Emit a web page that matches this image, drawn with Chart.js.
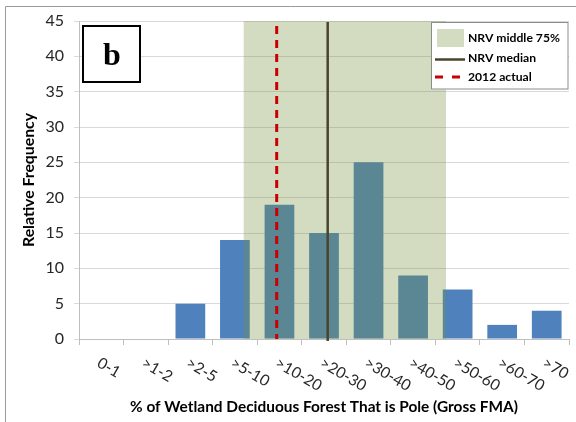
<!DOCTYPE html>
<html>
<head>
<meta charset="utf-8">
<script src="https://cdn.jsdelivr.net/npm/chart.js@4.4.1/dist/chart.umd.min.js"></script>
<style>
  html, body { margin: 0; padding: 0; background: #ffffff; }
  #wrap { width: 576px; height: 422px; }
</style>
</head>
<body>
<div id="wrap"><canvas id="c" width="576" height="422"></canvas></div>
<script>
// ---- data ----
const categories = ['0-1', '>1-2', '>2-5', '>5-10', '>10-20', '>20-30', '>30-40', '>40-50', '>50-60', '>60-70', '>70'];
const frequency = [0, 0, 5, 14, 19, 15, 25, 9, 7, 2, 4];
const yTickValues = [0, 5, 10, 15, 20, 25, 30, 35, 40, 45];
// reference marks, in category-index units along the x axis
const nrvMiddle75 = [3.197, 7.739];
const nrvMedian = 5.083;
const actual2012 = 3.938;
const legendLabels = ['NRV middle 75%', 'NRV median', '2012 actual'];
const panelLetter = 'b';
const xTitle = '% of Wetland Deciduous Forest That is Pole (Gross FMA)';
const yTitle = 'Relative Frequency';

const FONT = 'Lato, "Open Sans", "DejaVu Sans", sans-serif';
const SHADE = 'rgba(118,146,60,0.32)';
const MEDIAN_COLOR = '#4A452A';
const ACTUAL_COLOR = '#C80000';

function fitFont(ctx, text, weight, target) {
  let size = 10;
  ctx.font = weight + ' ' + size + 'px ' + FONT;
  const w = ctx.measureText(text).width;
  size = size * target / w;
  return weight + ' ' + size.toFixed(2) + 'px ' + FONT;
}

const decor = {
  id: 'decor',
  beforeDraw(chart) {
    const ctx = chart.ctx;
    ctx.save();
    ctx.fillStyle = '#ffffff';
    ctx.fillRect(0, 0, chart.width, chart.height);
    ctx.strokeStyle = '#9A9A9A';
    ctx.lineWidth = 1;
    ctx.beginPath();
    ctx.moveTo(5.5, chart.height);
    ctx.lineTo(5.5, 6.5);
    ctx.lineTo(chart.width, 6.5);
    ctx.stroke();
    ctx.restore();
  },
  afterDatasetsDraw(chart) {
    const ctx = chart.ctx;
    const xs = chart.scales.x, ys = chart.scales.y;
    const top = ys.getPixelForValue(45), bottom = ys.getPixelForValue(0);
    ctx.save();
    // shaded NRV middle 75%
    const x0 = xs.getPixelForValue(nrvMiddle75[0]);
    const x1 = xs.getPixelForValue(nrvMiddle75[1]);
    ctx.fillStyle = SHADE;
    ctx.fillRect(x0, top, x1 - x0, bottom - top);
    // median line
    const xm = xs.getPixelForValue(nrvMedian);
    ctx.strokeStyle = MEDIAN_COLOR;
    ctx.lineWidth = 2.5;
    ctx.beginPath();
    ctx.moveTo(xm, top + 1);
    ctx.lineTo(xm, bottom + 2);
    ctx.stroke();
    // 2012 actual
    const xa = xs.getPixelForValue(actual2012);
    ctx.strokeStyle = ACTUAL_COLOR;
    ctx.lineWidth = 3;
    ctx.setLineDash([8, 6]);
    ctx.beginPath();
    ctx.moveTo(xa, top + 5);
    ctx.lineTo(xa, bottom);
    ctx.stroke();
    ctx.restore();
  },
  afterDraw(chart) {
    const ctx = chart.ctx;
    const xs = chart.scales.x;
    const area = chart.chartArea;
    ctx.save();
    // x tick labels, rotated clockwise
    ctx.fillStyle = '#262626';
    ctx.font = '15.5px ' + FONT;
    ctx.textAlign = 'left';
    ctx.textBaseline = 'top';
    categories.forEach((lab, i) => {
      const x = xs.getPixelForValue(i);
      ctx.save();
      ctx.translate(x + 1, area.bottom + 16);
      ctx.rotate(Math.PI / 6);
      ctx.fillText(lab, 0, 0);
      ctx.restore();
    });
    // x title
    ctx.fillStyle = '#000000';
    ctx.font = fitFont(ctx, xTitle, 'bold', 388);
    ctx.textAlign = 'center';
    ctx.textBaseline = 'middle';
    ctx.fillText(xTitle, (area.left + area.right) / 2, 407);
    // y title
    ctx.save();
    ctx.translate(29, (area.top + area.bottom) / 2);
    ctx.rotate(-Math.PI / 2);
    ctx.font = fitFont(ctx, yTitle, 'bold', 134);
    ctx.fillText(yTitle, 0, 0);
    ctx.restore();

    // legend box
    ctx.fillStyle = '#ffffff';
    ctx.fillRect(431, 22.5, 137, 67);
    ctx.strokeStyle = '#8C8C8C';
    ctx.lineWidth = 1;
    ctx.strokeRect(431.5, 22.5, 136.5, 66.5);
    ctx.fillStyle = SHADE;
    ctx.fillRect(437, 29, 27, 18);
    ctx.strokeStyle = MEDIAN_COLOR;
    ctx.lineWidth = 2.5;
    ctx.beginPath(); ctx.moveTo(435, 59.5); ctx.lineTo(465, 59.5); ctx.stroke();
    ctx.strokeStyle = ACTUAL_COLOR;
    ctx.lineWidth = 3;
    ctx.setLineDash([8, 9]);
    ctx.beginPath(); ctx.moveTo(435, 77); ctx.lineTo(465, 77); ctx.stroke();
    ctx.setLineDash([]);
    ctx.fillStyle = '#000000';
    ctx.textAlign = 'left';
    ctx.textBaseline = 'middle';
    ctx.font = fitFont(ctx, legendLabels[0], 'bold', 92);
    ctx.fillText(legendLabels[0], 468, 38);
    ctx.fillText(legendLabels[1], 468, 58);
    ctx.fillText(legendLabels[2], 468, 77.5);

    // panel letter box
    ctx.fillStyle = '#ffffff';
    ctx.fillRect(83, 26, 57, 56);
    ctx.strokeStyle = '#000000';
    ctx.lineWidth = 2;
    ctx.strokeRect(83, 26, 57, 56);
    ctx.fillStyle = '#000000';
    ctx.font = 'bold 32px "Liberation Serif", "DejaVu Serif", serif';
    ctx.textAlign = 'center';
    ctx.textBaseline = 'alphabetic';
    ctx.fillText(panelLetter, 112, 65);
    ctx.restore();
  }
};

new Chart(document.getElementById('c'), {
  type: 'bar',
  data: {
    labels: categories,
    datasets: [{
      label: 'Relative Frequency',
      data: frequency,
      backgroundColor: '#4F81BD',
      borderWidth: 0,
      categoryPercentage: 1.0,
      barPercentage: 0.667
    }]
  },
  options: {
    responsive: false,
    devicePixelRatio: 1,
    animation: false,
    events: [],
    layout: { padding: { left: 0, right: 7, top: 21, bottom: 0 } },
    plugins: { legend: { display: false }, tooltip: { enabled: false } },
    scales: {
      x: {
        type: 'category',
        offset: true,
        grid: { offset: true, drawOnChartArea: false, drawTicks: true, tickLength: 6, color: '#BFBFBF' },
        border: { color: '#BFBFBF' },
        ticks: { display: false },
        afterFit(s) { s.height = 83; }
      },
      y: {
        min: 0, max: 45,
        afterBuildTicks(s) { s.ticks = yTickValues.map(v => ({ value: v })); },
        ticks: { color: '#262626', font: { family: FONT, size: 16 }, padding: 10 },
        grid: { color: '#D9D9D9', tickLength: 5 },
        border: { color: '#BFBFBF' },
        afterFit(s) { s.width = 79; }
      }
    }
  },
  plugins: [decor]
});
</script>
</body>
</html>
